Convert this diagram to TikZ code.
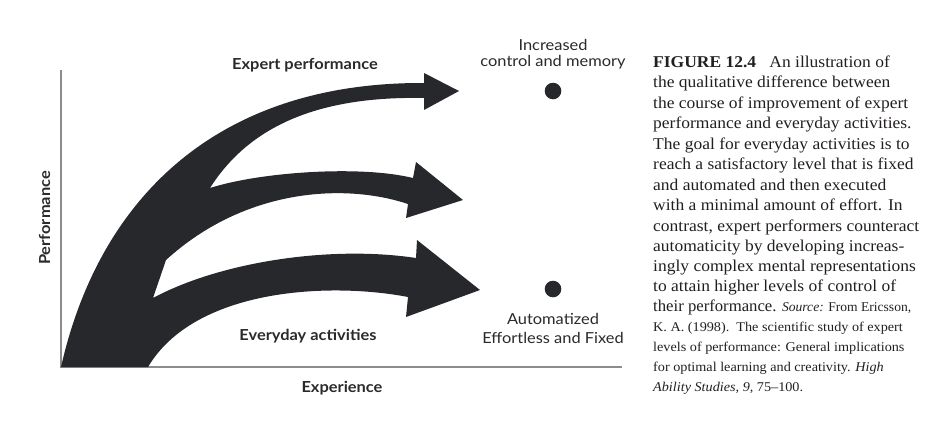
\documentclass[tikz,border=0pt]{standalone}
\usepackage{fontspec}
\setmainfont{Liberation Serif}
\newfontfamily\labfont[FakeStretch=1.08]{Lato}
\newfontfamily\capfont[FakeStretch=1.06]{Liberation Serif}
\definecolor{arrowcol}{HTML}{27282C}
\definecolor{axiscol}{HTML}{8C8C8C}
\definecolor{labcol}{HTML}{2A2A2C}
\definecolor{capcol}{HTML}{231F20}
\tikzset{
  boldlab/.style={font=\labfont\bfseries\fontsize{15.2}{18}\selectfont, text=labcol, inner sep=0pt},
  reglab/.style={font=\labfont\fontsize{15.2}{18}\selectfont, text=labcol, inner sep=0pt},
  capline/.style={font=\capfont\fontsize{16.5}{20}\selectfont, text=capcol, inner sep=0pt, anchor=base west},
  capsmall/.style={font=\capfont\fontsize{13.4}{20}\selectfont, text=capcol, inner sep=0pt, anchor=base west},
  axisline/.style={draw=axiscol, line width=1.5pt},
  dotmark/.style={circle, fill=arrowcol, minimum size=16.6pt, inner sep=0pt}
}
\begin{document}
\begin{tikzpicture}[x=1pt,y=-1pt]
\useasboundingbox (0,0) rectangle (925,429);
% axes
\coordinate (ytop) at (61,70);
\coordinate (orig) at (61,367);
\coordinate (xend) at (622,367);
\draw[axisline] (ytop) -- (orig) -- (xend);
% arrows
\fill[arrowcol] (61,367) .. controls (100,195) and (220,82) .. (424,83)
  -- (424,73) -- (459,91) -- (424,110) -- (424,98)
  .. controls (320,96) and (250,125) .. (210,188)
  .. controls (260,172) and (360,165) .. (413,178)
  -- (416,162) -- (463,200) -- (406,218) -- (408,204)
  .. controls (345,183) and (245,188) .. (166,260)
  -- (153,298)
  .. controls (220,262) and (330,245) .. (416,258)
  -- (417,240) -- (480,290) -- (406,317) -- (408,297)
  .. controls (330,282) and (195,288) .. (148,367)
  -- cycle;
% dots
\node[dotmark] (dtop) at (553,91) {};
\node[dotmark] (dbot) at (553,289) {};
% labels
\node[boldlab, anchor=base] (expert) at (305,69) {Expert performance};
\node[boldlab, anchor=base] (everyday) at (308,340) {Everyday activities};
\node[boldlab, anchor=base] (xlab) at (342,392) {Experience};
\node[boldlab, anchor=base, rotate=90] (ylab) at (50,218) {Performance};
\node[reglab, anchor=base] (inc1) at (553,50) {Increased};
\node[reglab, anchor=base] (inc2) at (553,66) {control and memory};
\node[reglab, anchor=base] (aut1) at (553,324) {Automatized};
\node[reglab, anchor=base] (aut2) at (553,343) {Effortless and Fixed};
% caption
\node[capline] (c1) at (653,67) {\textbf{FIGURE 12.4}\hspace{0.8em}An illustration of};
\node[capline] (c2) at (653,87.5) {the qualitative difference between};
\node[capline] (c3) at (653,108) {the course of improvement of expert};
\node[capline] (c4) at (653,128.5) {performance and everyday activities.};
\node[capline] (c5) at (653,149) {The goal for everyday activities is to};
\node[capline] (c6) at (653,169.5) {reach a satisfactory level that is fixed};
\node[capline] (c7) at (653,190) {and automated and then executed};
\node[capline] (c8) at (653,210.5) {with a minimal amount of effort. In};
\node[capline] (c9) at (653,231) {contrast, expert performers counteract};
\node[capline] (c10) at (653,251) {automaticity by developing increas-};
\node[capline] (c11) at (653,271) {ingly complex mental representations};
\node[capline] (c12) at (653,291) {to attain higher levels of control of};
\node[capline] (c13) at (653,311) {\scalebox{0.955}[1]{their performance. {\fontsize{13.4}{20}\selectfont\textit{Source:} From Ericsson,}}};
\node[capsmall] (c14) at (653,331.5) {K. A. (1998).\ \ The scientific study of expert};
\node[capsmall] (c15) at (653,351.5) {levels of performance: General implications};
\node[capsmall] (c16) at (653,371.5) {for optimal learning and creativity. \textit{High}};
\node[capsmall] (c17) at (653,391.5) {\textit{Ability Studies, 9,} 75–100.};
\end{tikzpicture}
\end{document}
